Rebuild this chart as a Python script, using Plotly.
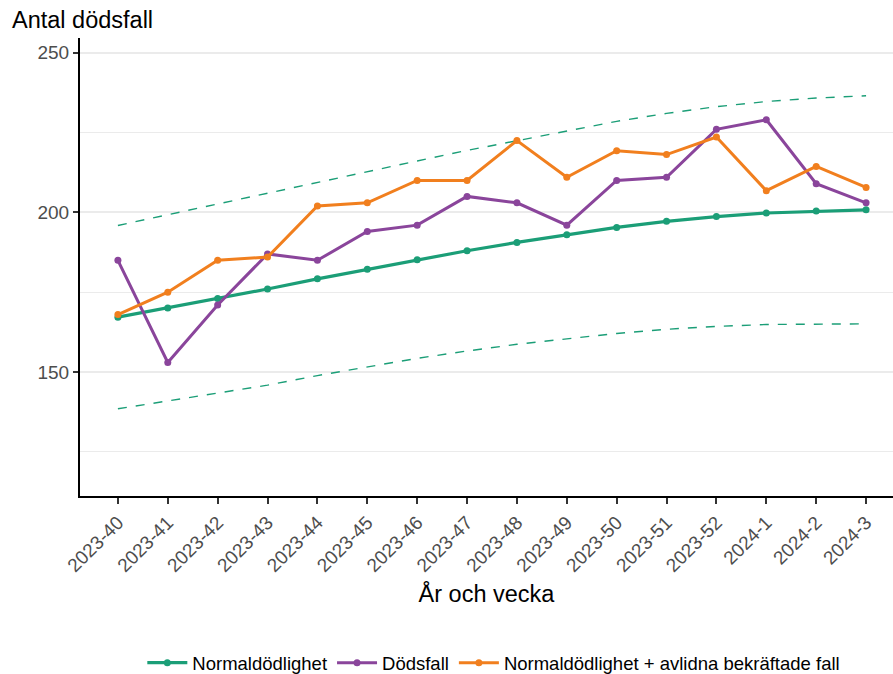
import plotly.graph_objects as go

weeks = ["2023-40", "2023-41", "2023-42", "2023-43", "2023-44", "2023-45", "2023-46", "2023-47",
         "2023-48", "2023-49", "2023-50", "2023-51", "2023-52", "2024-1", "2024-2", "2024-3"]
normal = [167.2, 170.1, 173.0, 176.0, 179.2, 182.2, 185.2, 188.0, 190.6, 193.0, 195.3, 197.2, 198.7, 199.8, 200.4, 200.8]
deaths = [185, 153, 171, 187, 185, 194, 196, 205, 203, 196, 210, 211, 226, 229, 209, 203]
normal_plus = [168, 175, 185, 186, 202, 203, 210, 210, 222.5, 211, 219.3, 218.1, 223.6, 206.8, 214.4, 207.8]
upper = [195.9, 199.3, 202.7, 206.1, 209.5, 212.8, 216.1, 219.4, 222.5, 225.6, 228.5, 231.0, 233.1, 234.7, 235.8, 236.5]
lower = [138.5, 140.9, 143.3, 145.9, 148.9, 151.6, 154.3, 156.6, 158.7, 160.4, 162.1, 163.4, 164.3, 164.9, 165.0, 165.1]

GREEN = "#1b9e77"
PURPLE = "#8a459b"
ORANGE = "#f17f1e"

fig = go.Figure()
fig.add_trace(go.Scatter(x=weeks, y=upper, mode="lines", line=dict(color=GREEN, width=1.4, dash="dash"),
                         showlegend=False, hoverinfo="skip"))
fig.add_trace(go.Scatter(x=weeks, y=lower, mode="lines", line=dict(color=GREEN, width=1.4, dash="dash"),
                         showlegend=False, hoverinfo="skip"))
fig.add_trace(go.Scatter(x=weeks, y=normal, mode="lines+markers", name="Normaldödlighet",
                         line=dict(color=GREEN, width=3.2), marker=dict(color=GREEN, size=7)))
fig.add_trace(go.Scatter(x=weeks, y=deaths, mode="lines+markers", name="Dödsfall",
                         line=dict(color=PURPLE, width=3), marker=dict(color=PURPLE, size=7)))
fig.add_trace(go.Scatter(x=weeks, y=normal_plus, mode="lines+markers", name="Normaldödlighet + avlidna bekräftade fall",
                         line=dict(color=ORANGE, width=3), marker=dict(color=ORANGE, size=7)))

fig.update_layout(
    width=893, height=674,
    margin=dict(l=80, r=0, t=38, b=178, autoexpand=False),
    plot_bgcolor="white", paper_bgcolor="white",
    font=dict(family="Liberation Sans, Arial, sans-serif", color="#000000"),
    showlegend=True,
    legend=dict(orientation="h", x=0.509, xanchor="center", y=-0.365, yanchor="middle",
                font=dict(size=18.5, color="#000000"), itemwidth=40, traceorder="normal"),
)
fig.add_annotation(text="Antal dödsfall", xref="paper", yref="paper",
                   x=(10 - 80) / 813, y=1 + 18 / 458, xanchor="left", yanchor="middle",
                   showarrow=False, font=dict(size=23.5, color="#000000"))

fig.update_xaxes(
    type="category", range=[-0.76, 15.54], automargin=False,
    showline=True, linecolor="#000000", linewidth=2,
    ticks="outside", ticklen=6, tickwidth=1.5, tickcolor="#333333",
    tickangle=-45, tickfont=dict(size=19, color="#4d4d4d"),
    showgrid=False, zeroline=False,
    title=dict(text="År och vecka", font=dict(size=23.5, color="#000000"), standoff=10),
)
fig.update_yaxes(
    range=[111.2, 254.6], automargin=False,
    tickvals=[150, 200, 250],
    showline=True, linecolor="#000000", linewidth=2,
    ticks="outside", ticklen=5, tickwidth=1.5, tickcolor="#333333",
    tickfont=dict(size=19, color="#4d4d4d"),
    showgrid=True, gridcolor="#ebebeb", gridwidth=1.6,
    minor=dict(tickvals=[125, 175, 225], showgrid=True, gridcolor="#ebebeb", gridwidth=1, ticks=""),
    zeroline=False,
)

fig.write_html("out.html", config={"displayModeBar": False},
               post_script="document.body.style.margin='0';")
